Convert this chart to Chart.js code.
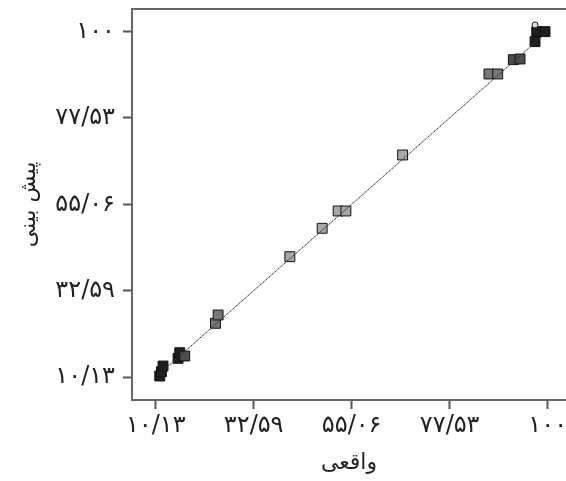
<!DOCTYPE html>
<html>
<head>
<meta charset="utf-8">
<script src="https://cdn.jsdelivr.net/npm/chart.js@4"></script>
<style>
html,body{margin:0;padding:0;background:#fff;overflow:hidden}
</style>
</head>
<body>
<canvas id="myChart" width="566" height="481"></canvas>
<script>
const actual    = [11.05, 11.44, 11.80, 15.25, 15.64, 16.78, 23.83, 24.43, 40.88, 48.29, 51.96, 53.73, 66.74, 86.54, 88.54, 92.12, 93.66, 97.10, 97.49, 99.39];
const predicted = [10.39, 11.51, 12.99, 14.99, 16.45, 15.59, 24.10, 26.26, 41.43, 48.81, 53.31, 53.31, 67.88, 88.95, 88.95, 92.67, 92.85, 97.36, 99.96, 99.96];
const extraX = [97.10];
const extraY = [101.7];
const fitX = [10.5, 100];
const fitY = [10.5, 100];
const tickValues = [10.13, 32.59, 55.06, 77.53, 100];
const tickLabels = ['۱۰/۱۳', '۳۲/۵۹', '۵۵/۰۶', '۷۷/۵۳', '۱۰۰'];

const toPoints = (xs, ys) => xs.map((x, i) => ({x: x, y: ys[i]}));

// darker squares towards both ends of the range
function shade(ctx) {
  const v = ctx.raw ? ctx.raw.x : 50;
  const d = Math.abs(v - 55);
  if (d > 39) return '#1e1e1e';
  if (d > 36) return '#4d4d4d';
  if (d > 28) return '#777777';
  return '#a8a8a8';
}

// no extra room for overflowing tick labels
function noPad(s) {
  s.paddingTop = 0; s.paddingBottom = 0;
  s.paddingLeft = 0; s.paddingRight = 0;
}

const framePlugin = {
  id: 'frame',
  afterDatasetsDraw(chart) {
    const a = chart.chartArea, c = chart.ctx;
    c.save();
    c.strokeStyle = '#666';
    c.lineWidth = 2;
    c.beginPath();
    c.moveTo(a.left - 1, a.top);
    c.lineTo(a.right + 2, a.top);
    c.stroke();
    c.restore();
  }
};

const font = {family: "'DejaVu Sans'", size: 24};
const titleFont = {family: "'DejaVu Sans'", size: 22};

new Chart(document.getElementById('myChart'), {
  type: 'scatter',
  data: {
    datasets: [{
      data: toPoints(fitX, fitY),
      showLine: true,
      borderColor: '#333',
      borderWidth: 1,
      borderDash: [3, 1],
      pointRadius: 0
    }, {
      data: toPoints(extraX, extraY),
      pointStyle: 'circle',
      pointRadius: 3,
      backgroundColor: '#ddd',
      borderColor: '#222',
      borderWidth: 1
    }, {
      data: toPoints(actual, predicted),
      pointStyle: 'rect',
      pointRadius: 7,
      backgroundColor: shade,
      borderColor: '#111',
      borderWidth: 1
    }]
  },
  options: {
    responsive: false,
    animation: false,
    layout: {autoPadding: false, padding: {top: 9, right: 0, left: 0, bottom: 0}},
    plugins: {legend: {display: false}, tooltip: {enabled: false}},
    scales: {
      x: {
        min: 4.69,
        max: 104.2,
        afterFit: s => { s.height = 81; noPad(s); },
        afterBuildTicks: s => { s.ticks = tickValues.map(v => ({value: v})); },
        ticks: {
          callback: (v, i) => tickLabels[i],
          font: font,
          color: '#222',
          padding: 2,
          maxRotation: 0,
          autoSkip: false
        },
        grid: {drawOnChartArea: false, drawTicks: true, tickLength: 9, tickColor: '#555', tickWidth: 2},
        border: {display: true, color: '#666', width: 2},
        title: {display: true, text: 'واقعی', font: titleFont, color: '#222', padding: {top: 0, bottom: 5}}
      },
      y: {
        min: 4.15,
        max: 105.85,
        afterFit: s => { s.width = 132; noPad(s); },
        afterBuildTicks: s => { s.ticks = tickValues.map(v => ({value: v})); },
        ticks: {
          callback: (v, i) => tickLabels[i],
          font: font,
          color: '#222',
          padding: 8,
          autoSkip: false
        },
        grid: {drawOnChartArea: false, drawTicks: true, tickLength: 9, tickColor: '#555', tickWidth: 2},
        border: {display: true, color: '#666', width: 2},
        title: {display: true, text: 'پیش بینی', font: titleFont, color: '#222', padding: {top: 16, bottom: 0}}
      }
    }
  },
  plugins: [framePlugin]
});
</script>
</body>
</html>
